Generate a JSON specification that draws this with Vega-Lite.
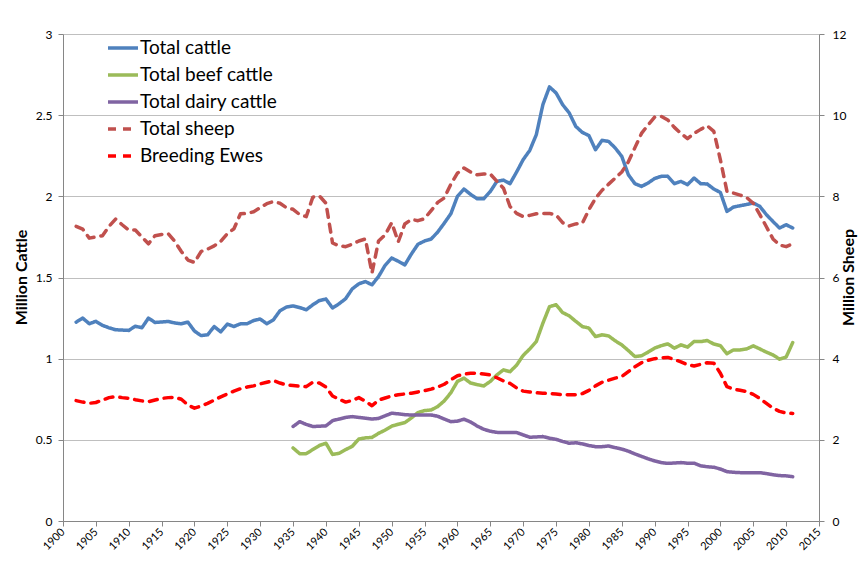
{
  "$schema": "https://vega.github.io/schema/vega-lite/v6.json",
  "width": 756,
  "height": 487,
  "autosize": {"type": "none"},
  "padding": {"left": 63, "top": 34, "right": 39, "bottom": 46},
  "background": "white",
  "config": {
    "font": "Lato",
    "view": {"stroke": null},
    "axis": {
      "labelColor": "#000000",
      "titleColor": "#000000",
      "domainColor": "#868686",
      "tickColor": "#868686",
      "gridColor": "#BFBFBF",
      "labelFont": "Lato",
      "titleFont": "Lato"
    },
    "legend": {
      "title": null,
      "orient": "none",
      "legendX": 43,
      "legendY": -3,
      "symbolType": "stroke",
      "symbolSize": 900,
      "symbolStrokeWidth": 3.5,
      "labelFontSize": 19,
      "labelFont": "Lato",
      "labelColor": "#000000",
      "rowPadding": -0.5,
      "labelOffset": 0
    }
  },
  "data": {
    "values": [
      {"year": 1902, "cattle": 1.225, "sheep": 7.26, "ewes": 2.966},
      {"year": 1903, "cattle": 1.25, "sheep": 7.19, "ewes": 2.93},
      {"year": 1904, "cattle": 1.215, "sheep": 6.97, "ewes": 2.9},
      {"year": 1905, "cattle": 1.23, "sheep": 7.0, "ewes": 2.92},
      {"year": 1906, "cattle": 1.205, "sheep": 7.03, "ewes": 2.98},
      {"year": 1907, "cattle": 1.19, "sheep": 7.26, "ewes": 3.04},
      {"year": 1908, "cattle": 1.178, "sheep": 7.44, "ewes": 3.065},
      {"year": 1909, "cattle": 1.176, "sheep": 7.3, "ewes": 3.04},
      {"year": 1910, "cattle": 1.174, "sheep": 7.17, "ewes": 3.025},
      {"year": 1911, "cattle": 1.2, "sheep": 7.17, "ewes": 2.99},
      {"year": 1912, "cattle": 1.19, "sheep": 7.0, "ewes": 2.96},
      {"year": 1913, "cattle": 1.25, "sheep": 6.83, "ewes": 2.94},
      {"year": 1914, "cattle": 1.223, "sheep": 7.03, "ewes": 2.98},
      {"year": 1915, "cattle": 1.226, "sheep": 7.06, "ewes": 3.02},
      {"year": 1916, "cattle": 1.229, "sheep": 7.08, "ewes": 3.04},
      {"year": 1917, "cattle": 1.22, "sheep": 6.89, "ewes": 3.05},
      {"year": 1918, "cattle": 1.215, "sheep": 6.64, "ewes": 3.0},
      {"year": 1919, "cattle": 1.225, "sheep": 6.43, "ewes": 2.86},
      {"year": 1920, "cattle": 1.17, "sheep": 6.37, "ewes": 2.78},
      {"year": 1921, "cattle": 1.142, "sheep": 6.64, "ewes": 2.83},
      {"year": 1922, "cattle": 1.147, "sheep": 6.7, "ewes": 2.9},
      {"year": 1923, "cattle": 1.198, "sheep": 6.78, "ewes": 2.98},
      {"year": 1924, "cattle": 1.165, "sheep": 6.89, "ewes": 3.06},
      {"year": 1925, "cattle": 1.213, "sheep": 7.08, "ewes": 3.13},
      {"year": 1926, "cattle": 1.198, "sheep": 7.2, "ewes": 3.2},
      {"year": 1927, "cattle": 1.215, "sheep": 7.57, "ewes": 3.26},
      {"year": 1928, "cattle": 1.215, "sheep": 7.58, "ewes": 3.3},
      {"year": 1929, "cattle": 1.235, "sheep": 7.62, "ewes": 3.33},
      {"year": 1930, "cattle": 1.244, "sheep": 7.72, "ewes": 3.38},
      {"year": 1931, "cattle": 1.215, "sheep": 7.82, "ewes": 3.42},
      {"year": 1932, "cattle": 1.239, "sheep": 7.87, "ewes": 3.46},
      {"year": 1933, "cattle": 1.295, "sheep": 7.83, "ewes": 3.4},
      {"year": 1934, "cattle": 1.318, "sheep": 7.72, "ewes": 3.35},
      {"year": 1935, "cattle": 1.325, "beef": 0.45, "dairy": 0.582, "sheep": 7.68, "ewes": 3.34},
      {"year": 1936, "cattle": 1.315, "beef": 0.415, "dairy": 0.612, "sheep": 7.55, "ewes": 3.32},
      {"year": 1937, "cattle": 1.301, "beef": 0.415, "dairy": 0.595, "sheep": 7.5, "ewes": 3.31},
      {"year": 1938, "cattle": 1.332, "beef": 0.44, "dairy": 0.582, "sheep": 7.98, "ewes": 3.42},
      {"year": 1939, "cattle": 1.358, "beef": 0.465, "dairy": 0.584, "sheep": 8.01, "ewes": 3.4},
      {"year": 1940, "cattle": 1.367, "beef": 0.479, "dairy": 0.586, "sheep": 7.83, "ewes": 3.3},
      {"year": 1941, "cattle": 1.312, "beef": 0.41, "dairy": 0.618, "sheep": 6.85, "ewes": 3.08},
      {"year": 1942, "cattle": 1.338, "beef": 0.417, "dairy": 0.628, "sheep": 6.78, "ewes": 3.0},
      {"year": 1943, "cattle": 1.37, "beef": 0.44, "dairy": 0.638, "sheep": 6.76, "ewes": 2.93},
      {"year": 1944, "cattle": 1.43, "beef": 0.46, "dairy": 0.643, "sheep": 6.82, "ewes": 2.97},
      {"year": 1945, "cattle": 1.461, "beef": 0.505, "dairy": 0.638, "sheep": 6.9, "ewes": 3.04},
      {"year": 1946, "cattle": 1.475, "beef": 0.512, "dairy": 0.633, "sheep": 6.95, "ewes": 2.95},
      {"year": 1947, "cattle": 1.455, "beef": 0.515, "dairy": 0.628, "sheep": 6.11, "ewes": 2.84},
      {"year": 1948, "cattle": 1.506, "beef": 0.54, "dairy": 0.632, "sheep": 6.9, "ewes": 2.98},
      {"year": 1949, "cattle": 1.575, "beef": 0.56, "dairy": 0.648, "sheep": 7.05, "ewes": 3.03},
      {"year": 1950, "cattle": 1.62, "beef": 0.584, "dairy": 0.664, "sheep": 7.35, "ewes": 3.08},
      {"year": 1951, "cattle": 1.6, "beef": 0.596, "dairy": 0.66, "sheep": 6.88, "ewes": 3.11},
      {"year": 1952, "cattle": 1.578, "beef": 0.606, "dairy": 0.655, "sheep": 7.32, "ewes": 3.13},
      {"year": 1953, "cattle": 1.645, "beef": 0.635, "dairy": 0.653, "sheep": 7.43, "ewes": 3.15},
      {"year": 1954, "cattle": 1.705, "beef": 0.668, "dairy": 0.653, "sheep": 7.4, "ewes": 3.18},
      {"year": 1955, "cattle": 1.725, "beef": 0.68, "dairy": 0.653, "sheep": 7.45, "ewes": 3.21},
      {"year": 1956, "cattle": 1.737, "beef": 0.684, "dairy": 0.653, "sheep": 7.65, "ewes": 3.25},
      {"year": 1957, "cattle": 1.78, "beef": 0.705, "dairy": 0.645, "sheep": 7.85, "ewes": 3.3},
      {"year": 1958, "cattle": 1.835, "beef": 0.74, "dairy": 0.628, "sheep": 7.96, "ewes": 3.37},
      {"year": 1959, "cattle": 1.893, "beef": 0.79, "dairy": 0.612, "sheep": 8.3, "ewes": 3.48},
      {"year": 1960, "cattle": 2.0, "beef": 0.86, "dairy": 0.615, "sheep": 8.57, "ewes": 3.58},
      {"year": 1961, "cattle": 2.045, "beef": 0.88, "dairy": 0.627, "sheep": 8.7, "ewes": 3.62},
      {"year": 1962, "cattle": 2.012, "beef": 0.85, "dairy": 0.61, "sheep": 8.6, "ewes": 3.64},
      {"year": 1963, "cattle": 1.985, "beef": 0.84, "dairy": 0.585, "sheep": 8.53, "ewes": 3.64},
      {"year": 1964, "cattle": 1.985, "beef": 0.832, "dairy": 0.565, "sheep": 8.55, "ewes": 3.62},
      {"year": 1965, "cattle": 2.03, "beef": 0.86, "dairy": 0.553, "sheep": 8.55, "ewes": 3.6},
      {"year": 1966, "cattle": 2.092, "beef": 0.9, "dairy": 0.546, "sheep": 8.37, "ewes": 3.53},
      {"year": 1967, "cattle": 2.1, "beef": 0.931, "dairy": 0.545, "sheep": 8.2, "ewes": 3.45},
      {"year": 1968, "cattle": 2.078, "beef": 0.92, "dairy": 0.545, "sheep": 7.75, "ewes": 3.39},
      {"year": 1969, "cattle": 2.15, "beef": 0.96, "dairy": 0.545, "sheep": 7.58, "ewes": 3.28},
      {"year": 1970, "cattle": 2.226, "beef": 1.02, "dairy": 0.53, "sheep": 7.5, "ewes": 3.2},
      {"year": 1971, "cattle": 2.283, "beef": 1.06, "dairy": 0.516, "sheep": 7.53, "ewes": 3.18},
      {"year": 1972, "cattle": 2.38, "beef": 1.106, "dairy": 0.518, "sheep": 7.57, "ewes": 3.16},
      {"year": 1973, "cattle": 2.565, "beef": 1.219, "dairy": 0.52, "sheep": 7.58, "ewes": 3.15},
      {"year": 1974, "cattle": 2.674, "beef": 1.32, "dairy": 0.51, "sheep": 7.58, "ewes": 3.14},
      {"year": 1975, "cattle": 2.637, "beef": 1.332, "dairy": 0.503, "sheep": 7.54, "ewes": 3.13},
      {"year": 1976, "cattle": 2.565, "beef": 1.284, "dairy": 0.49, "sheep": 7.35, "ewes": 3.11},
      {"year": 1977, "cattle": 2.514, "beef": 1.264, "dairy": 0.479, "sheep": 7.27, "ewes": 3.11},
      {"year": 1978, "cattle": 2.431, "beef": 1.23, "dairy": 0.482, "sheep": 7.32, "ewes": 3.11},
      {"year": 1979, "cattle": 2.394, "beef": 1.198, "dairy": 0.475, "sheep": 7.34, "ewes": 3.14},
      {"year": 1980, "cattle": 2.374, "beef": 1.188, "dairy": 0.465, "sheep": 7.67, "ewes": 3.22},
      {"year": 1981, "cattle": 2.287, "beef": 1.136, "dairy": 0.458, "sheep": 7.95, "ewes": 3.33},
      {"year": 1982, "cattle": 2.345, "beef": 1.147, "dairy": 0.458, "sheep": 8.15, "ewes": 3.42},
      {"year": 1983, "cattle": 2.338, "beef": 1.14, "dairy": 0.462, "sheep": 8.3, "ewes": 3.47},
      {"year": 1984, "cattle": 2.298, "beef": 1.11, "dairy": 0.452, "sheep": 8.45, "ewes": 3.52},
      {"year": 1985, "cattle": 2.246, "beef": 1.085, "dairy": 0.443, "sheep": 8.6, "ewes": 3.56},
      {"year": 1986, "cattle": 2.133, "beef": 1.05, "dairy": 0.43, "sheep": 8.85, "ewes": 3.68},
      {"year": 1987, "cattle": 2.078, "beef": 1.013, "dairy": 0.413, "sheep": 9.2, "ewes": 3.8},
      {"year": 1988, "cattle": 2.061, "beef": 1.018, "dairy": 0.398, "sheep": 9.55, "ewes": 3.9},
      {"year": 1989, "cattle": 2.082, "beef": 1.04, "dairy": 0.383, "sheep": 9.76, "ewes": 3.96},
      {"year": 1990, "cattle": 2.11, "beef": 1.065, "dairy": 0.37, "sheep": 9.95, "ewes": 4.0},
      {"year": 1991, "cattle": 2.123, "beef": 1.08, "dairy": 0.36, "sheep": 9.97, "ewes": 4.02},
      {"year": 1992, "cattle": 2.123, "beef": 1.091, "dairy": 0.355, "sheep": 9.88, "ewes": 4.03},
      {"year": 1993, "cattle": 2.078, "beef": 1.065, "dairy": 0.357, "sheep": 9.7, "ewes": 3.98},
      {"year": 1994, "cattle": 2.092, "beef": 1.085, "dairy": 0.36, "sheep": 9.55, "ewes": 3.92},
      {"year": 1995, "cattle": 2.072, "beef": 1.071, "dairy": 0.356, "sheep": 9.42, "ewes": 3.85},
      {"year": 1996, "cattle": 2.113, "beef": 1.106, "dairy": 0.356, "sheep": 9.55, "ewes": 3.82},
      {"year": 1997, "cattle": 2.078, "beef": 1.105, "dairy": 0.34, "sheep": 9.65, "ewes": 3.86},
      {"year": 1998, "cattle": 2.076, "beef": 1.112, "dairy": 0.334, "sheep": 9.74, "ewes": 3.9},
      {"year": 1999, "cattle": 2.045, "beef": 1.09, "dairy": 0.331, "sheep": 9.6, "ewes": 3.89},
      {"year": 2000, "cattle": 2.024, "beef": 1.08, "dairy": 0.32, "sheep": 8.9, "ewes": 3.64},
      {"year": 2001, "cattle": 1.907, "beef": 1.03, "dairy": 0.304, "sheep": 8.12, "ewes": 3.31},
      {"year": 2002, "cattle": 1.934, "beef": 1.054, "dairy": 0.3, "sheep": 8.08, "ewes": 3.25},
      {"year": 2003, "cattle": 1.942, "beef": 1.054, "dairy": 0.298, "sheep": 8.03, "ewes": 3.22},
      {"year": 2004, "cattle": 1.95, "beef": 1.06, "dairy": 0.298, "sheep": 7.97, "ewes": 3.19},
      {"year": 2005, "cattle": 1.959, "beef": 1.079, "dairy": 0.298, "sheep": 7.83, "ewes": 3.12},
      {"year": 2006, "cattle": 1.938, "beef": 1.06, "dairy": 0.298, "sheep": 7.55, "ewes": 3.02},
      {"year": 2007, "cattle": 1.887, "beef": 1.04, "dairy": 0.292, "sheep": 7.25, "ewes": 2.9},
      {"year": 2008, "cattle": 1.845, "beef": 1.023, "dairy": 0.285, "sheep": 6.95, "ewes": 2.78},
      {"year": 2009, "cattle": 1.805, "beef": 0.997, "dairy": 0.28, "sheep": 6.8, "ewes": 2.7},
      {"year": 2010, "cattle": 1.825, "beef": 1.01, "dairy": 0.278, "sheep": 6.76, "ewes": 2.66},
      {"year": 2011, "cattle": 1.805, "beef": 1.099, "dairy": 0.273, "sheep": 6.83, "ewes": 2.65}
    ]
  },
  "encoding": {
    "x": {
      "field": "year",
      "type": "quantitative",
      "scale": {"domain": [1900, 2015], "nice": false, "zero": false},
      "axis": {
        "title": null,
        "values": [1900, 1905, 1910, 1915, 1920, 1925, 1930, 1935, 1940, 1945, 1950, 1955, 1960, 1965, 1970, 1975, 1980, 1985, 1990, 1995, 2000, 2005, 2010, 2015],
        "format": "d",
        "labelAngle": -45,
        "labelAlign": "right",
        "labelBaseline": "middle",
        "labelFontSize": 11,
        "tickSize": 5,
        "labelPadding": 4,
        "grid": false,
        "labelOverlap": false
      }
    },
    "color": {
      "field": "series",
      "type": "nominal",
      "scale": {"domain": ["cattle", "beef", "dairy", "sheep", "ewes"], "range": ["#4F81BD", "#9BBB59", "#8064A2", "#C0504D", "#FF0000"]},
      "legend": {
        "labelExpr": "{'cattle':'Total cattle','beef':'Total beef cattle','dairy':'Total dairy cattle','sheep':'Total sheep','ewes':'Breeding Ewes'}[datum.label]"
      }
    },
    "strokeDash": {
      "field": "series",
      "type": "nominal",
      "scale": {"domain": ["cattle", "beef", "dairy", "sheep", "ewes"], "range": [[1, 0], [1, 0], [1, 0], [8, 7], [8, 7]]},
      "legend": {
        "labelExpr": "{'cattle':'Total cattle','beef':'Total beef cattle','dairy':'Total dairy cattle','sheep':'Total sheep','ewes':'Breeding Ewes'}[datum.label]"
      }
    }
  },
  "layer": [
    {
      "transform": [
        {"fold": ["cattle", "beef", "dairy"], "as": ["series", "value"]},
        {"filter": "isValid(datum.value)"}
      ],
      "mark": {"type": "line", "strokeWidth": 3.5, "strokeCap": "round", "strokeJoin": "round"},
      "encoding": {
        "y": {
          "field": "value",
          "type": "quantitative",
          "scale": {"domain": [0, 3], "nice": false},
          "axis": {
            "orient": "left",
            "values": [0, 0.5, 1, 1.5, 2, 2.5, 3],
            "format": "~g",
            "title": "Million Cattle",
            "titleFontSize": 16,
            "titleFontWeight": "bold",
            "titleAngle": 270,
            "titleX": -42,
            "titleY": 243,
            "titleAlign": "center",
            "titleBaseline": "middle",
            "labelFontSize": 12,
            "tickSize": 5,
            "labelPadding": 6,
            "grid": true
          }
        }
      }
    },
    {
      "transform": [
        {"fold": ["sheep", "ewes"], "as": ["series", "value"]},
        {"filter": "isValid(datum.value)"}
      ],
      "mark": {"type": "line", "strokeWidth": 3.5, "strokeCap": "round", "strokeJoin": "round"},
      "encoding": {
        "y": {
          "field": "value",
          "type": "quantitative",
          "scale": {"domain": [0, 12], "nice": false},
          "axis": {
            "orient": "right",
            "values": [0, 2, 4, 6, 8, 10, 12],
            "format": "d",
            "title": "Million Sheep",
            "titleFontSize": 16,
            "titleFontWeight": "bold",
            "titleAngle": 270,
            "titleX": 29,
            "titleY": 243,
            "titleAlign": "center",
            "titleBaseline": "middle",
            "labelFontSize": 12,
            "tickSize": 5,
            "labelPadding": 8,
            "grid": false
          }
        }
      }
    }
  ],
  "resolve": {"scale": {"y": "independent"}}
}
